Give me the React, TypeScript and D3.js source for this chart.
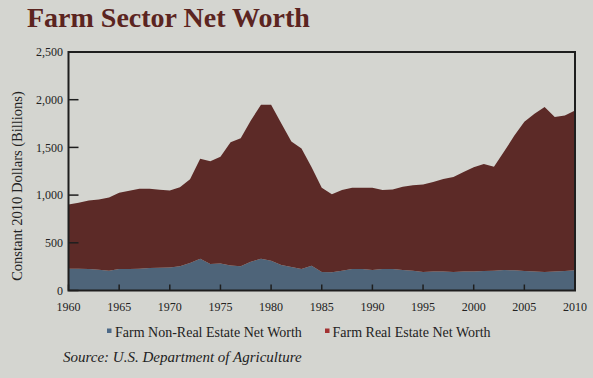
import React from "react";
import * as d3 from "d3";

const years: number[] = d3.range(1960, 2011);
const nonRealEstate: number[] = [
  228, 228, 225, 218, 207, 225, 225, 228, 235, 239,
  242, 253, 288, 333, 277, 284, 263, 253, 302, 333,
  312, 267, 246, 225, 260, 193, 190, 207, 225, 225,
  214, 225, 225, 214, 207, 193, 200, 200, 193, 200,
  200, 204, 207, 214, 211, 204, 200, 193, 200, 204, 211,
];
const realEstate: number[] = [
  674, 691, 719, 736, 768, 800, 821, 839, 832, 817,
  807, 828, 877, 1049, 1077, 1119, 1291, 1343, 1480, 1614,
  1635, 1487, 1315, 1263, 1031, 884, 820, 846, 852, 852,
  863, 828, 835, 874, 895, 919, 937, 968, 996, 1042,
  1091, 1122, 1091, 1242, 1410, 1564, 1653, 1730, 1618, 1631, 1677,
];
const xTicks: number[] = [1960, 1965, 1970, 1975, 1980, 1985, 1990, 1995, 2000, 2005, 2010];
const yTicks: number[] = [0, 500, 1000, 1500, 2000, 2500];
const seriesNames: string[] = ["Farm Non-Real Estate Net Worth", "Farm Real Estate Net Worth"];

const W = 593;
const H = 378;
const BG = "#d4d5d0";
const areaColors = ["#4e6479", "#5c2a27"];
const legendColors = ["#4d6a88", "#a33232"];
const SERIF = "'Liberation Serif', 'Times New Roman', serif";
const ts: React.CSSProperties = { fontFamily: SERIF };

export default function App() {
  const x = d3.scaleLinear().domain([1960, 2010]).range([68.5, 575]);
  const y = d3.scaleLinear().domain([0, 2500]).range([290.5, 52]);

  const rows = years.map((yr, i) => ({ year: yr, nre: nonRealEstate[i], re: realEstate[i] }));
  const stacked = d3.stack<any>().keys(["nre", "re"])(rows);
  const area = d3
    .area<any>()
    .x((d) => x(d.data.year))
    .y0((d) => y(d[0]))
    .y1((d) => y(d[1]));

  const fmt = d3.format(",");
  const [x0, x1] = x.range();
  const [yb, yt] = y.range();

  return (
    <svg
      width={W}
      height={H}
      style={{ position: "fixed", left: 0, top: 0, background: BG }}
    >
      <rect x={0} y={0} width={W} height={H} fill={BG} />
      <text x={27} y={27} fontSize={28} fontWeight="bold" fill="#5b2420" style={ts}>
        Farm Sector Net Worth
      </text>

      {stacked.map((s, i) => (
        <path key={i} d={area(s) || ""} fill={areaColors[i]} />
      ))}

      {yTicks.map((t) => (
        <g key={t}>
          <line x1={x0} x2={x0 + 10} y1={y(t)} y2={y(t)} stroke="#1e1e1e" strokeWidth={1.5} />
          <text x={63} y={y(t)} dy="0.35em" textAnchor="end" fontSize={12} fill="#222" style={ts}>
            {fmt(t)}
          </text>
        </g>
      ))}
      {xTicks.map((t) => (
        <g key={t}>
          <line x1={x(t)} x2={x(t)} y1={yb} y2={yb - 6} stroke="#1e1e1e" strokeWidth={1.5} />
          <text x={x(t)} y={311} textAnchor="middle" fontSize={12} fill="#222" style={ts}>
            {t}
          </text>
        </g>
      ))}

      <rect
        x={x0}
        y={yt}
        width={x1 - x0}
        height={yb - yt}
        fill="none"
        stroke="#1e1e1e"
        strokeWidth={2}
      />

      <text
        transform={`translate(22,186) rotate(-90)`}
        textAnchor="middle"
        fontSize={14.5}
        fill="#222"
        style={ts}
      >
        Constant 2010 Dollars (Billions)
      </text>

      <rect x={107} y={328.5} width={4.5} height={4.5} fill={legendColors[0]} />
      <text x={115} y={337} fontSize={14} fill="#222" style={ts}>
        {seriesNames[0]}
      </text>
      <rect x={325} y={328.5} width={4.5} height={4.5} fill={legendColors[1]} />
      <text x={332.5} y={337} fontSize={14} fill="#222" style={ts}>
        {seriesNames[1]}
      </text>

      <text x={63} y={362} fontSize={15} fontStyle="italic" fill="#222" style={ts}>
        Source: U.S. Department of Agriculture
      </text>
    </svg>
  );
}
